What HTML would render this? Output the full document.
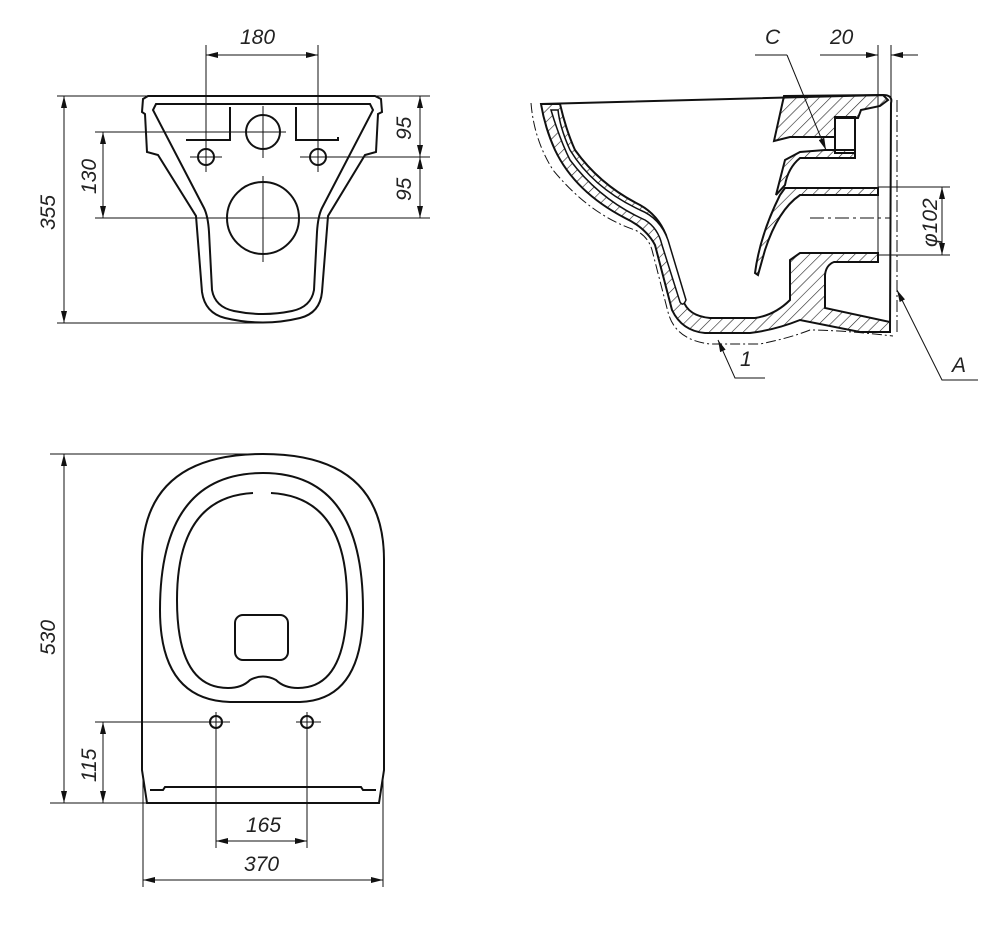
<!DOCTYPE html>
<html><head><meta charset="utf-8"><style>
html,body{margin:0;padding:0;background:#fff;}
svg{display:block;}
text{font-family:"Liberation Sans",sans-serif;font-style:italic;font-size:21px;fill:#222;}
</style></head><body>
<svg width="1000" height="927" viewBox="0 0 1000 927" xmlns="http://www.w3.org/2000/svg">
<defs>
<marker id="ar" viewBox="0 0 12 6" refX="12" refY="3" markerWidth="12" markerHeight="6" orient="auto-start-reverse" markerUnits="userSpaceOnUse"><path d="M0,0 L12,3 L0,6 z" fill="#111"/></marker>
<pattern id="hat" width="8" height="8" patternUnits="userSpaceOnUse" patternTransform="rotate(45)"><line x1="0" y1="0" x2="0" y2="8" stroke="#222" stroke-width="1.2"/></pattern>
</defs>
<g fill="none" stroke="#111" stroke-width="1">
<line x1="206" y1="45" x2="206" y2="165"/><line x1="318" y1="45" x2="318" y2="165"/>
<line x1="206" y1="55" x2="318" y2="55" marker-start="url(#ar)" marker-end="url(#ar)"/>
<line x1="57" y1="96" x2="148" y2="96"/><line x1="57" y1="323" x2="262" y2="323"/>
<line x1="64" y1="96" x2="64" y2="323" marker-start="url(#ar)" marker-end="url(#ar)"/>
<line x1="95" y1="132" x2="285" y2="132"/><line x1="95" y1="218" x2="305" y2="218"/>
<line x1="103" y1="132" x2="103" y2="218" marker-start="url(#ar)" marker-end="url(#ar)"/>
<line x1="375" y1="96" x2="430" y2="96"/><line x1="300" y1="157" x2="430" y2="157"/><line x1="305" y1="218" x2="430" y2="218"/>
<line x1="420" y1="96" x2="420" y2="157" marker-start="url(#ar)" marker-end="url(#ar)"/>
<line x1="420" y1="157" x2="420" y2="218" marker-start="url(#ar)" marker-end="url(#ar)"/>
<line x1="263" y1="106" x2="263" y2="158"/><line x1="243" y1="132" x2="286" y2="132"/>
<line x1="263" y1="176" x2="263" y2="262"/><line x1="218" y1="218" x2="305" y2="218"/>
<line x1="190" y1="157" x2="222" y2="157"/><line x1="302" y1="157" x2="335" y2="157"/>
<line x1="206" y1="147" x2="206" y2="172"/><line x1="318" y1="147" x2="318" y2="172"/>
</g>
<g fill="none" stroke="#111" stroke-width="2">
<path d="M148,96 L375,96 L381,99 L382,112 L378,114 L376,152 L365,155 L328,216 L322,292 Q320,313 300,318 Q263,327 225,318 Q205,313 202,292 L196,216 L158,155 L147,152 L145,114 L142,112 L143,99 Z"/>
<path d="M156,104 L370,104 L373,110 L322,208 Q318,216 317,232 L314,290 Q311,307 292,311 Q263,317 234,311 Q215,307 212,290 L209,232 Q208,216 204,208 L153,110 Z"/>
<path d="M186,140 L230,140 L230,107"/><path d="M296,107 L296,140 L338,140 L338,137"/>
<circle cx="263" cy="132" r="17"/><circle cx="263" cy="218" r="36"/>
<circle cx="206" cy="157" r="8"/><circle cx="318" cy="157" r="8"/>
</g>
<text x="240" y="44">180</text>
<text transform="translate(55,230) rotate(-90)">355</text>
<text transform="translate(96,194) rotate(-90)">130</text>
<text transform="translate(411,140) rotate(-90)">95</text>
<text transform="translate(411,201) rotate(-90)">95</text>

<path d="M541,104 L560,104 Q566,130 575,150 Q600,185 640,205 Q658,215 666,235 L683,300 Q688,316 710,318 L755,318 Q775,315 790,300 L790,260 L800,253 L878,253 L878,262 L834,262 Q826,265 825,275 L825,308 L890,322 L890,332 L860,332 L800,320 Q775,330 750,333 L705,333 Q682,331 672,310 L655,245 Q646,228 625,218 Q575,192 555,150 Q545,128 541,104 Z" fill="url(#hat)" stroke="#111" stroke-width="2"/>
<path d="M551,110 Q560,140 570,160 Q600,200 645,220 Q658,228 662,245 L680,302 Q683,307 686,300 L668,240 Q660,218 640,210 Q593,188 570,150 Q560,128 558,110 Z" fill="#fff" stroke="#111" stroke-width="1.5"/>
<g fill="url(#hat)" stroke="#111" stroke-width="2">
<path d="M784,96 L883,95 L888,100 L880,106 L861,110 L858,118 L835,118 L835,137 L790,137 L774,141 Z"/>
<path d="M785,160 L800,152 L825,150 L855,150 L855,158 L800,158 Q788,168 785,185 L776,195 Z"/>
<path d="M780,195 L785,188 L878,188 L878,195 L800,195 Q778,210 765,250 L758,275 L755,273 Q760,235 780,195 Z"/>
</g>
<g fill="none" stroke="#111" stroke-width="2">
<path d="M541,104 L883,95 Q893,95 891,103 L890,330"/>
<rect x="835" y="117" width="20" height="36"/>
<line x1="790" y1="262" x2="790" y2="300"/>
</g>
<g fill="none" stroke="#111" stroke-width="1">
<path d="M531,103 Q534,140 553,170 Q590,215 635,230 Q648,236 652,250 L668,312 Q675,340 710,344 L760,344 Q790,338 810,330 Q840,330 893,336" stroke-dasharray="10,3,2,3"/>
<line x1="897" y1="100" x2="897" y2="332" stroke-dasharray="12,3,2,3"/>
<line x1="878" y1="45" x2="878" y2="262"/><line x1="891" y1="45" x2="891" y2="100"/>
<line x1="820" y1="55" x2="878" y2="55" marker-end="url(#ar)"/>
<line x1="918" y1="55" x2="891" y2="55" marker-end="url(#ar)"/>
<line x1="755" y1="55" x2="787" y2="55"/><line x1="787" y1="55" x2="826" y2="150" marker-end="url(#ar)"/>
<line x1="810" y1="218" x2="890" y2="218" stroke-dasharray="14,4,3,4"/>
<line x1="878" y1="187" x2="950" y2="187"/><line x1="878" y1="255" x2="950" y2="255"/>
<line x1="942" y1="187" x2="942" y2="255" marker-start="url(#ar)" marker-end="url(#ar)"/>
<path d="M978,380 L942,380 L897,290" marker-end="url(#ar)"/>
<path d="M765,378 L735,378 L718,340" marker-end="url(#ar)"/>
</g>
<text x="765" y="44">C</text>
<text x="830" y="44">20</text>
<text transform="translate(937,247) rotate(-90)">φ102</text>
<text x="952" y="372">A</text>
<text x="740" y="366">1</text>

<g fill="none" stroke="#111" stroke-width="1">
<line x1="50" y1="454" x2="263" y2="454"/><line x1="50" y1="803" x2="147" y2="803"/>
<line x1="64" y1="454" x2="64" y2="803" marker-start="url(#ar)" marker-end="url(#ar)"/>
<line x1="95" y1="722" x2="230" y2="722"/>
<line x1="103" y1="722" x2="103" y2="803" marker-start="url(#ar)" marker-end="url(#ar)"/>
<line x1="216" y1="712" x2="216" y2="848"/><line x1="307" y1="712" x2="307" y2="848"/>
<line x1="296" y1="722" x2="321" y2="722"/>
<line x1="216" y1="841" x2="307" y2="841" marker-start="url(#ar)" marker-end="url(#ar)"/>
<line x1="143" y1="780" x2="143" y2="887"/><line x1="383" y1="780" x2="383" y2="887"/>
<line x1="143" y1="880" x2="383" y2="880" marker-start="url(#ar)" marker-end="url(#ar)"/>
</g>
<g fill="none" stroke="#111" stroke-width="2">
<path d="M147,803 L142,770 L142,560 Q142,454 263,454 Q384,454 384,560 L384,770 L379,803 Z"/>
<path d="M150,790 L163,790 L165,787 L361,787 L363,790 L376,790"/>
<path d="M160,610 Q160,473 263,473 Q363,473 363,610 Q363,700 300,702 L230,702 Q160,700 160,610 Z"/>
<path d="M253,493 Q177,497 177,600 Q177,688 228,688 Q242,688 250,680 Q263,673 276,680 Q284,688 298,688 Q347,688 347,600 Q347,497 271,493"/>
<rect x="235" y="615" width="53" height="45" rx="8"/>
<circle cx="216" cy="722" r="6"/><circle cx="307" cy="722" r="6"/>
</g>
<text transform="translate(55,655) rotate(-90)">530</text>
<text transform="translate(96,782) rotate(-90)">115</text>
<text x="246" y="832">165</text>
<text x="244" y="871">370</text>
</svg>
</body></html>
